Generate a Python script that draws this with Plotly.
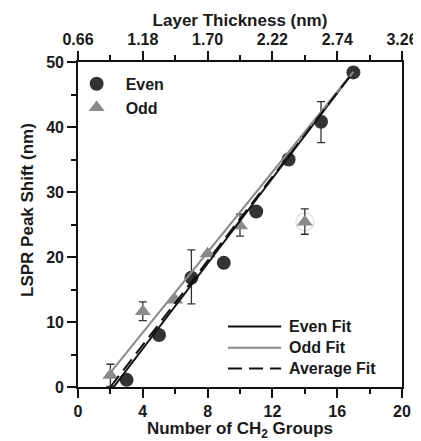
import plotly.graph_objects as go

# ---- data ----
even_x = [3, 5, 7, 9, 11, 13, 15, 17]
even_y = [1.1, 8.0, 16.8, 19.1, 27.0, 35.0, 40.8, 48.4]
even_err_plus = [0, 0, 4.3, 0, 0, 0, 3.1, 0]
even_err_minus = [0, 0, 4.0, 0, 0, 0, 3.2, 0]

odd_x = [2, 4, 6, 8, 10, 14]
odd_y = [1.8, 11.6, 13.4, 20.5, 24.8, 25.4]
odd_err_plus = [1.7, 1.5, 0, 0, 1.8, 2.0]
odd_err_minus = [1.7, 1.4, 0, 0, 1.6, 1.9]

even_fit_x = [2.2, 17]
even_fit_y = [0.0, 48.5]
odd_fit_x = [1.8, 17]
odd_fit_y = [1.6, 48.5]
avg_fit_x = [2.0, 17]
avg_fit_y = [0.0, 48.5]

bottom_ticks = [0, 4, 8, 12, 16, 20]
left_ticks = [0, 10, 20, 30, 40, 50]
top_tick_vals = [0.66, 1.18, 1.70, 2.22, 2.74, 3.26]
top_tick_text = ["0.66", "1.18", "1.70", "2.22", "2.74", "3.26"]

FONT = "Liberation Sans, Arial, sans-serif"
TXT = "#1a1a1a"
EVEN_C = "#333333"
ODD_C = "#8a8a8a"
DASH = "14px,7px"

fig = go.Figure()

# faint halo around the outlying odd point
fig.add_trace(go.Scatter(
    x=odd_x[-1:], y=odd_y[-1:], mode="markers", showlegend=False, hoverinfo="skip",
    marker=dict(symbol="circle-open", size=18, color="#dedede", line=dict(width=1.2)),
))

fig.add_trace(go.Scatter(
    x=even_x, y=even_y, mode="markers", name="Even",
    marker=dict(symbol="circle", size=14, color=EVEN_C),
    error_y=dict(type="data", array=even_err_plus, arrayminus=even_err_minus,
                 color="#333333", thickness=1.3, width=4),
    cliponaxis=False,
))
fig.add_trace(go.Scatter(
    x=odd_x, y=odd_y, mode="markers", name="Odd",
    marker=dict(symbol="triangle-up", size=14, color=ODD_C),
    error_y=dict(type="data", array=odd_err_plus, arrayminus=odd_err_minus,
                 color="#333333", thickness=1.3, width=4),
    cliponaxis=False,
))

fig.add_trace(go.Scatter(x=even_fit_x, y=even_fit_y, mode="lines", name="Even Fit",
                         line=dict(color="#111111", width=2), showlegend=False))
fig.add_trace(go.Scatter(x=odd_fit_x, y=odd_fit_y, mode="lines", name="Odd Fit",
                         line=dict(color=ODD_C, width=2), showlegend=False))
fig.add_trace(go.Scatter(x=avg_fit_x, y=avg_fit_y, mode="lines", name="Average Fit",
                         line=dict(color="#111111", width=2, dash=DASH), showlegend=False))

# invisible trace to carry top axis
fig.add_trace(go.Scatter(x=top_tick_vals, y=[None] * len(top_tick_vals), xaxis="x2",
                         mode="markers", showlegend=False, hoverinfo="skip"))

# manual line legend (bottom right)
leg_items = [("Even Fit", "#111111", "solid", 0.186),
             ("Odd Fit", ODD_C, "solid", 0.121),
             ("Average Fit", "#111111", DASH, 0.057)]
for label, col, dash, yy in leg_items:
    fig.add_shape(type="line", xref="x domain", yref="y domain",
                  x0=0.463, x1=0.627, y0=yy, y1=yy,
                  line=dict(color=col, width=2, dash=dash))
    fig.add_annotation(xref="x domain", yref="y domain", x=0.645, y=yy,
                       text=label, showarrow=False, xanchor="left", yanchor="middle",
                       font=dict(family=FONT, size=16, color=TXT, weight="bold"))

# y-axis title
fig.add_annotation(xref="x domain", yref="y domain", x=-0.154, y=0.545,
                   text="LSPR Peak Shift (nm)", textangle=-90, showarrow=False,
                   xanchor="center", yanchor="middle",
                   font=dict(family=FONT, size=17, color=TXT, weight="bold"))

axis_common = dict(showline=True, linecolor="#111111", linewidth=1.6,
                   ticks="outside", tickcolor="#111111", tickwidth=1.6, ticklen=9,
                   showgrid=False, zeroline=False, automargin=False,
                   tickfont=dict(family=FONT, size=16, color=TXT, weight="bold"))

# page body adds an 8px offset; figure sized to fit the 421x441 window
fig.update_layout(
    width=413, height=433,
    margin=dict(l=70, r=19, t=54, b=54),
    paper_bgcolor="white", plot_bgcolor="white",
    font=dict(family=FONT, size=16, color=TXT, weight="bold"),
    xaxis=dict(range=[0, 20], tickvals=bottom_ticks,
               minor=dict(dtick=2, tick0=0, ticks="outside", ticklen=5, tickwidth=1.6, tickcolor="#111111"),
               title=dict(text="Number of CH<sub>2</sub> Groups", standoff=3,
                          font=dict(family=FONT, size=17, color=TXT, weight="bold")),
               **axis_common),
    xaxis2=dict(range=[0.66, 3.26], overlaying="x", side="top", anchor="y",
                tickvals=top_tick_vals, ticktext=top_tick_text,
                minor=dict(dtick=0.26, tick0=0.66, ticks="outside", ticklen=5, tickwidth=1.6, tickcolor="#111111"),
                title=dict(text="Layer Thickness (nm)", standoff=0,
                           font=dict(family=FONT, size=17, color=TXT, weight="bold")),
                **axis_common),
    yaxis=dict(range=[0, 50], tickvals=left_ticks, mirror=True,
               minor=dict(dtick=5, tick0=0, ticks="outside", ticklen=5, tickwidth=1.6, tickcolor="#111111"),
               **axis_common),
    legend=dict(x=-0.032, y=0.985, xanchor="left", yanchor="top",
                bgcolor="rgba(0,0,0,0)", font=dict(family=FONT, size=16, color=TXT, weight="bold"),
                itemwidth=48, tracegroupgap=0),
    showlegend=True,
)

fig.write_html("out.html")
